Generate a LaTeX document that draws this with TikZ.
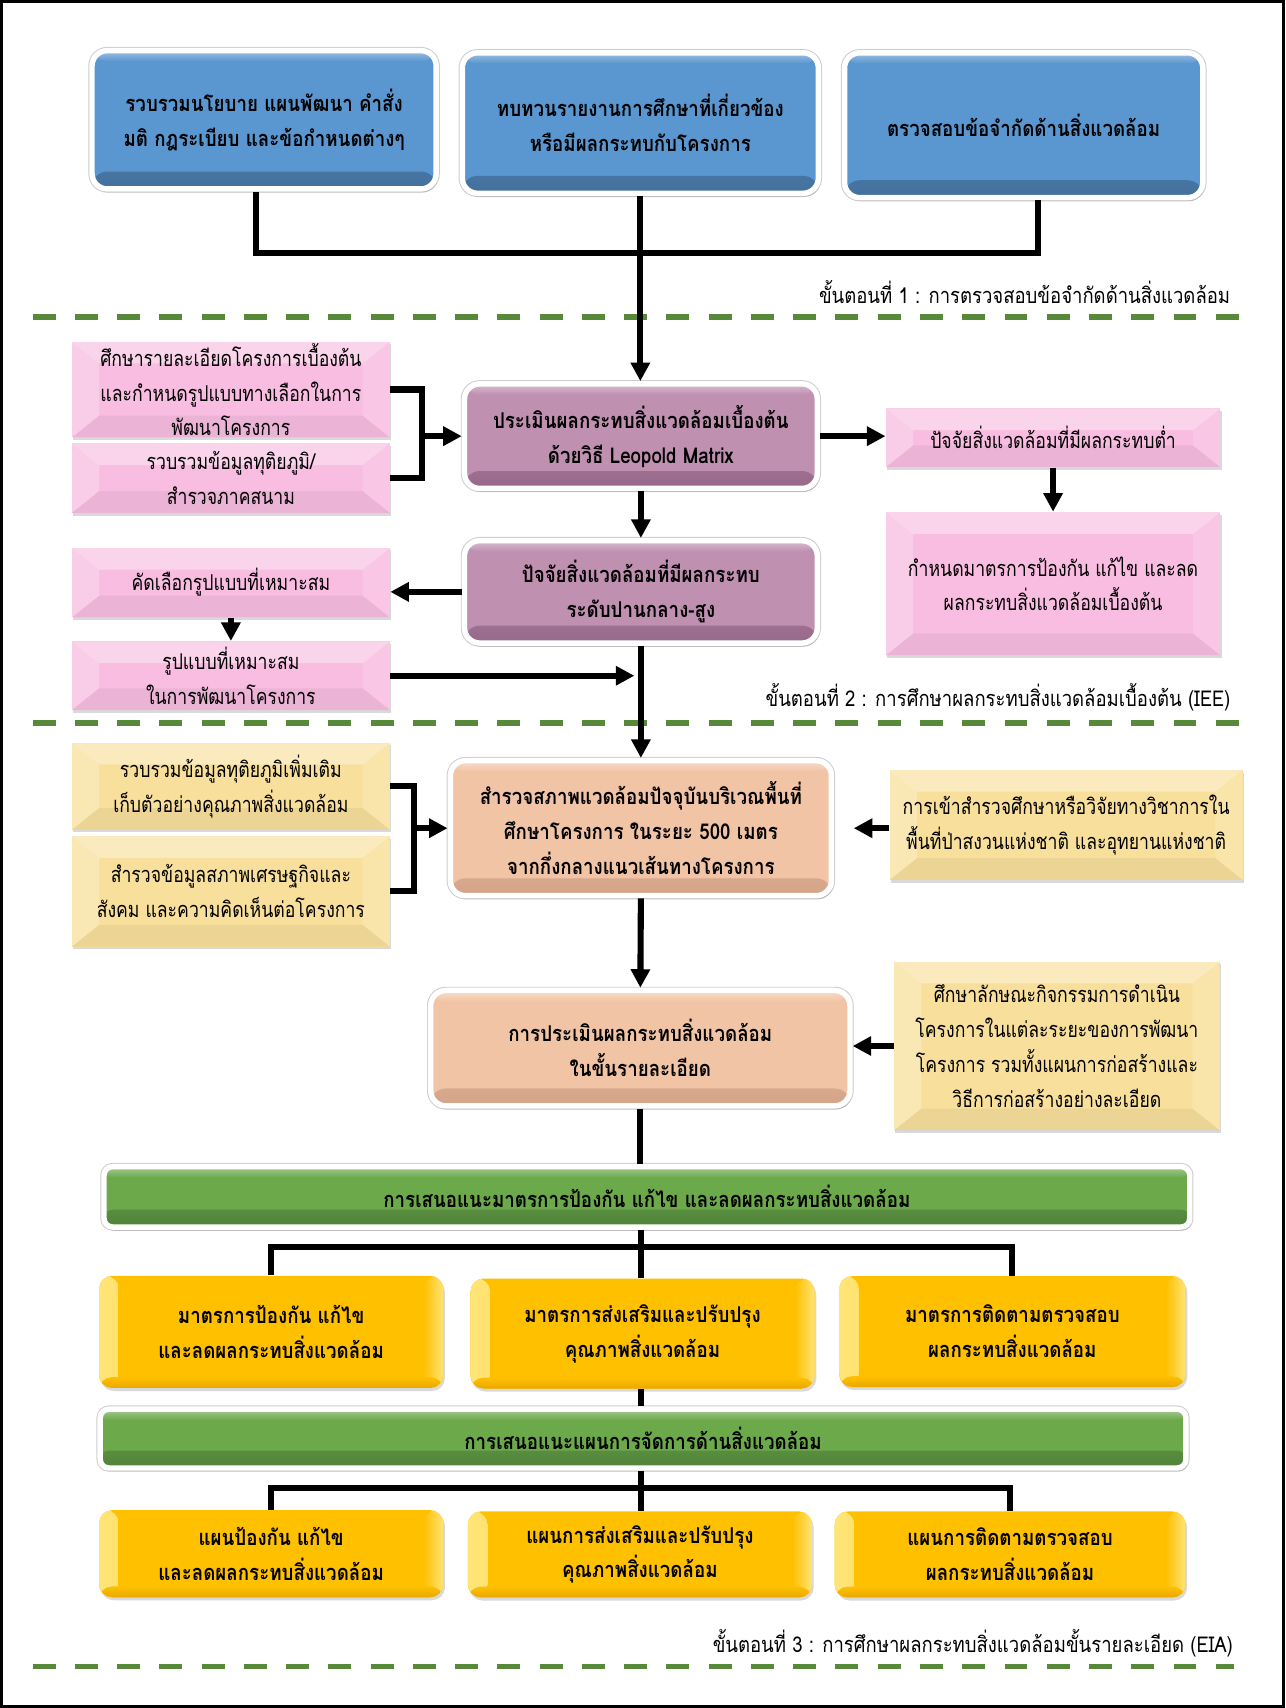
\documentclass[tikz,border=0pt]{standalone}
\usepackage{fontspec}
\newfontfamily\thaiR[Script=Thai, FakeStretch=0.81, BoldFeatures={FakeStretch=0.86}]{Loma}
\newfontfamily\thaiS[Script=Thai, FakeStretch=0.85]{Loma}
\usetikzlibrary{calc,shadows,arrows.meta}
\definecolor{blueC}{HTML}{5A96CF}
\definecolor{blueD}{HTML}{44709C}
\definecolor{purC}{HTML}{C090B1}
\definecolor{purD}{HTML}{96688A}
\definecolor{peaC}{HTML}{F2C4A6}
\definecolor{peaD}{HTML}{D3A487}
\definecolor{grnC}{HTML}{6CA94B}
\definecolor{grnD}{HTML}{50823A}
\definecolor{gldC}{HTML}{FFC000}
\definecolor{gldL}{HTML}{FFE477}
\definecolor{gldD}{HTML}{E8A800}
\definecolor{pnkC}{HTML}{F8BDE1}
\definecolor{crmC}{HTML}{F8E09C}
\definecolor{dshG}{HTML}{568A3A}
\newcommand\TxR{\thaiR\fontsize{10}{16}\selectfont}
\newcommand\TxB{\thaiR\bfseries\fontsize{10}{16}\selectfont}
\newcommand\TxS{\thaiS\fontsize{10}{16}\selectfont}
\tikzset{
  rbox/.style 2 args={rectangle, rounded corners=7pt, draw=white, line width=2.5pt, fill=#1,
    inner sep=0pt, align=center, font=\TxB,
    preaction={draw=black!20, line width=3.4pt},
    drop shadow={shadow xshift=0.8pt, shadow yshift=-1.6pt, opacity=0.3},
    path picture={
      \shade[top color=#1, bottom color=#2] ($(path picture bounding box.south west)+(0,-16)$) rectangle (path picture bounding box.south east);
      \shade[top color=#1!60!white, bottom color=#1] (path picture bounding box.north west) rectangle ($(path picture bounding box.north east)+(0,10)$);
    }},
  bevel/.style={rectangle, fill=#1, inner sep=0pt, align=center, font=\TxR,
    drop shadow={shadow xshift=0.6pt, shadow yshift=-1.2pt, opacity=0.3},
    path picture={
      \path (path picture bounding box.north west) coordinate (q1)
            (path picture bounding box.north east) coordinate (q2)
            (path picture bounding box.south east) coordinate (q3)
            (path picture bounding box.south west) coordinate (q4);
      \coordinate (r1) at ($(q1)+(25,20)$);
      \coordinate (r2) at ($(q2)+(-25,20)$);
      \coordinate (r3) at ($(q3)+(-25,-20)$);
      \coordinate (r4) at ($(q4)+(25,-20)$);
      \fill[white, opacity=0.35] (q1) -- (q2) -- (r2) -- (r1) -- cycle;
      \fill[white, opacity=0.25] (q1) -- (r1) -- (r4) -- (q4) -- cycle;
      \fill[white, opacity=0.15] (q2) -- (q3) -- (r3) -- (r2) -- cycle;
      \fill[black, opacity=0.05] (q4) -- (r4) -- (r3) -- (q3) -- cycle;
    }},
  gbox/.style={rectangle, rounded corners=6pt, fill=gldC, inner sep=0pt, align=center, font=\TxB,
    drop shadow={shadow xshift=0.8pt, shadow yshift=-1.4pt, opacity=0.3},
    path picture={
      \shade[left color=gldL, right color=gldC] (path picture bounding box.north west) rectangle ($(path picture bounding box.south west)+(18,0)$);
      \shade[left color=gldC, right color=gldL] ($(path picture bounding box.north east)+(-18,0)$) rectangle (path picture bounding box.south east);
      \shade[top color=gldC, bottom color=gldD] ($(path picture bounding box.south west)+(0,-10)$) rectangle (path picture bounding box.south east);
    }},
  cline/.style={line width=2.8pt},
  arr/.style={line width=2.8pt, -{Triangle[length=8.5pt, width=8.5pt]}},
  stage/.style={font=\TxS, anchor=east, inner sep=0pt},
  dline/.style={dshG, line width=2.5pt, dash pattern=on 10.5pt off 8.9pt}
}
\begin{document}
\begin{tikzpicture}[x=0.5pt, y=-0.5pt]
\useasboundingbox (0,0) rectangle (1180,1568.4);
% section 1
\node[rbox={blueC}{blueD}, minimum width=158pt, minimum height=63.5pt] (A) at (242.5,110)
  {รวบรวมนโยบาย แผนพัฒนา คำสั่ง\\มติ กฎระเบียบ และข้อกำหนดต่างๆ};
\node[rbox={blueC}{blueD}, minimum width=163.5pt, minimum height=64.5pt] (B) at (588,113)
  {ทบทวนรายงานการศึกษาที่เกี่ยวข้อง\\หรือมีผลกระทบกับโครงการ};
\node[rbox={blueC}{blueD}, minimum width=164.5pt, minimum height=66.5pt] (C) at (940,115)
  {ตรวจสอบข้อจำกัดด้านสิ่งแวดล้อม};
\node[stage] (S1) at (1130,268) {ขั้นตอนที่ 1 : การตรวจสอบข้อจำกัดด้านสิ่งแวดล้อม};
% section 2
\node[bevel=pnkC, minimum width=146pt, minimum height=44pt] (P1) at (212,357.7)
  {ศึกษารายละเอียดโครงการเบื้องต้น\\และกำหนดรูปแบบทางเลือกในการ\\พัฒนาโครงการ};
\node[bevel=pnkC, minimum width=146pt, minimum height=32pt] (P2) at (212,439)
  {รวบรวมข้อมูลทุติยภูมิ/\\สำรวจภาคสนาม};
\node[rbox={purC}{purD}, minimum width=162pt, minimum height=48pt] (Leo) at (588.5,400.5)
  {ประเมินผลกระทบสิ่งแวดล้อมเบื้องต้น\\ด้วยวิธี Leopold Matrix};
\node[bevel=pnkC, minimum width=153.5pt, minimum height=27pt] (P3) at (967,402)
  {ปัจจัยสิ่งแวดล้อมที่มีผลกระทบต่ำ};
\node[bevel=pnkC, minimum width=153.5pt, minimum height=65.75pt] (P4) at (967,536)
  {กำหนดมาตรการป้องกัน แก้ไข และลด\\ผลกระทบสิ่งแวดล้อมเบื้องต้น};
\node[rbox={purC}{purD}, minimum width=162pt, minimum height=47pt] (Pur) at (588.5,543.5)
  {ปัจจัยสิ่งแวดล้อมที่มีผลกระทบ\\ระดับปานกลาง-สูง};
\node[bevel=pnkC, minimum width=146pt, minimum height=32pt] (P5) at (212,535)
  {คัดเลือกรูปแบบที่เหมาะสม};
\node[bevel=pnkC, minimum width=146pt, minimum height=31.5pt] (P6) at (212,620.5)
  {รูปแบบที่เหมาะสม\\ในการพัฒนาโครงการ};
\node[stage] (S2) at (1130,640) {ขั้นตอนที่ 2 : การศึกษาผลกระทบสิ่งแวดล้อมเบื้องต้น (IEE)};
% section 3
\node[bevel=crmC, minimum width=146pt, minimum height=40pt] (Y1) at (212,722)
  {รวบรวมข้อมูลทุติยภูมิเพิ่มเติม\\เก็บตัวอย่างคุณภาพสิ่งแวดล้อม};
\node[bevel=crmC, minimum width=146pt, minimum height=50.8pt] (Y2) at (212,818.5)
  {สำรวจข้อมูลสภาพเศรษฐกิจและ\\สังคม และความคิดเห็นต่อโครงการ};
\node[rbox={peaC}{peaD}, minimum width=175pt, minimum height=62pt] (O1) at (588.5,760.5)
  {สำรวจสภาพแวดล้อมปัจจุบันบริเวณพื้นที่\\ศึกษาโครงการ ในระยะ 500 เมตร\\จากกึ่งกลางแนวเส้นทางโครงการ};
\node[bevel=crmC, minimum width=162pt, minimum height=50.5pt] (Y3) at (979,757.5)
  {การเข้าสำรวจศึกษาหรือวิจัยทางวิชาการใน\\พื้นที่ป่าสงวนแห่งชาติ และอุทยานแห่งชาติ};
\node[rbox={peaC}{peaD}, minimum width=192.5pt, minimum height=53pt] (O2) at (588,962.5)
  {การประเมินผลกระทบสิ่งแวดล้อม\\ในขั้นรายละเอียด};
\node[bevel=crmC, minimum width=149.5pt, minimum height=77.5pt] (Y4) at (970.5,960.5)
  {ศึกษาลักษณะกิจกรรมการดำเนิน\\โครงการในแต่ละระยะของการพัฒนา\\โครงการ รวมทั้งแผนการก่อสร้างและ\\วิธีการก่อสร้างอย่างละเอียด};
\node[rbox={grnC}{grnD}, rounded corners=4pt, minimum width=498.5pt, minimum height=27.75pt] (G1) at (594,1099)
  {การเสนอแนะมาตรการป้องกัน แก้ไข และลดผลกระทบสิ่งแวดล้อม};
\node[gbox, minimum width=158pt, minimum height=51.5pt] (M1) at (249,1223)
  {มาตรการป้องกัน แก้ไข\\และลดผลกระทบสิ่งแวดล้อม};
\node[gbox, minimum width=158pt, minimum height=50.5pt] (M2) at (590,1224.5)
  {มาตรการส่งเสริมและปรับปรุง\\คุณภาพสิ่งแวดล้อม};
\node[gbox, minimum width=159pt, minimum height=51pt] (M3) at (929.6,1222.7)
  {มาตรการติดตามตรวจสอบ\\ผลกระทบสิ่งแวดล้อม};
\node[rbox={grnC}{grnD}, rounded corners=4pt, minimum width=498.5pt, minimum height=27pt] (G2) at (590.5,1321)
  {การเสนอแนะแผนการจัดการด้านสิ่งแวดล้อม};
\node[gbox, minimum width=158pt, minimum height=40pt] (N1) at (249,1426.7)
  {แผนป้องกัน แก้ไข\\และลดผลกระทบสิ่งแวดล้อม};
\node[gbox, minimum width=158pt, minimum height=39.5pt] (N2) at (587.6,1427.4)
  {แผนการส่งเสริมและปรับปรุง\\คุณภาพสิ่งแวดล้อม};
\node[gbox, minimum width=161pt, minimum height=39.5pt] (N3) at (927.5,1427.4)
  {แผนการติดตามตรวจสอบ\\ผลกระทบสิ่งแวดล้อม};
\node[stage] (S3) at (1132.5,1509) {ขั้นตอนที่ 3 : การศึกษาผลกระทบสิ่งแวดล้อมขั้นรายละเอียด (EIA)};
% dashed separators and frame
\draw[dline] (30,291) -- (1152,291);
\draw[dline] (30,664) -- (1152,664);
\draw[dline] (30,1530.5) -- (1133,1530.5);
\draw[line width=1.5pt] (1.5,1.5) rectangle (1178.5,1567);
% connectors section 1
\coordinate (j1) at (588,232.5);
\draw[cline] ([xshift=-3.75pt]A.south) |- (j1) -| ([xshift=6.5pt]C.south);
\draw[arr] (B.south) -- (B.south |- Leo.north);
% section 2
\coordinate (b1) at ($(P1.east)+(29,0)$);
\draw[cline] (P1.east) -- (b1) |- (P2.east);
\draw[arr] (b1 |- Leo.west) -- (Leo.west);
\draw[arr] (Leo.east) -- (Leo.east -| P3.west);
\draw[arr] (P3.south) -- (P4.north);
\draw[arr] (Leo.south) -- (Pur.north);
\draw[arr] (Pur.west) -- (Pur.west -| P5.east);
\draw[arr] (P5.south) -- (P6.north);
\draw[arr] (Pur.south) -- (Pur.south |- O1.north);
\coordinate (p6e) at ($(P6.east -| Pur.south)+(-6,0)$);
\draw[arr] (P6.east) -- (p6e);
% section 3
\coordinate (b2) at ($(Y1.east)+(22,0)$);
\draw[cline] (Y1.east) -- (b2) |- (Y2.east);
\draw[arr] (b2 |- O1.west) -- (O1.west);
\draw[arr, shorten >=9pt] (O1.east -| Y3.west) -- (O1.east);
\draw[arr] (Y4.west) -- (Y4.west -| O2.east);
\draw[arr] (O1.south) -- (O2.north);
\draw[cline] (O2.south) -- (O2.south |- G1.north);
\coordinate (t1) at (588.6,1144.8);
\draw[cline] (G1.south -| t1) -- (t1);
\draw[cline] (M1.north) |- (t1) -| (M3.north);
\draw[cline] (t1) -- (t1 |- M2.north);
\draw[cline] (M2.south -| t1) -- (t1 |- G2.north);
\coordinate (t2) at (588.6,1366.7);
\draw[cline] (G2.south -| t2) -- (t2);
\draw[cline] (N1.north) |- (t2) -| (N3.north);
\draw[cline] (t2) -- (t2 |- N2.north);
\end{tikzpicture}
\end{document}
